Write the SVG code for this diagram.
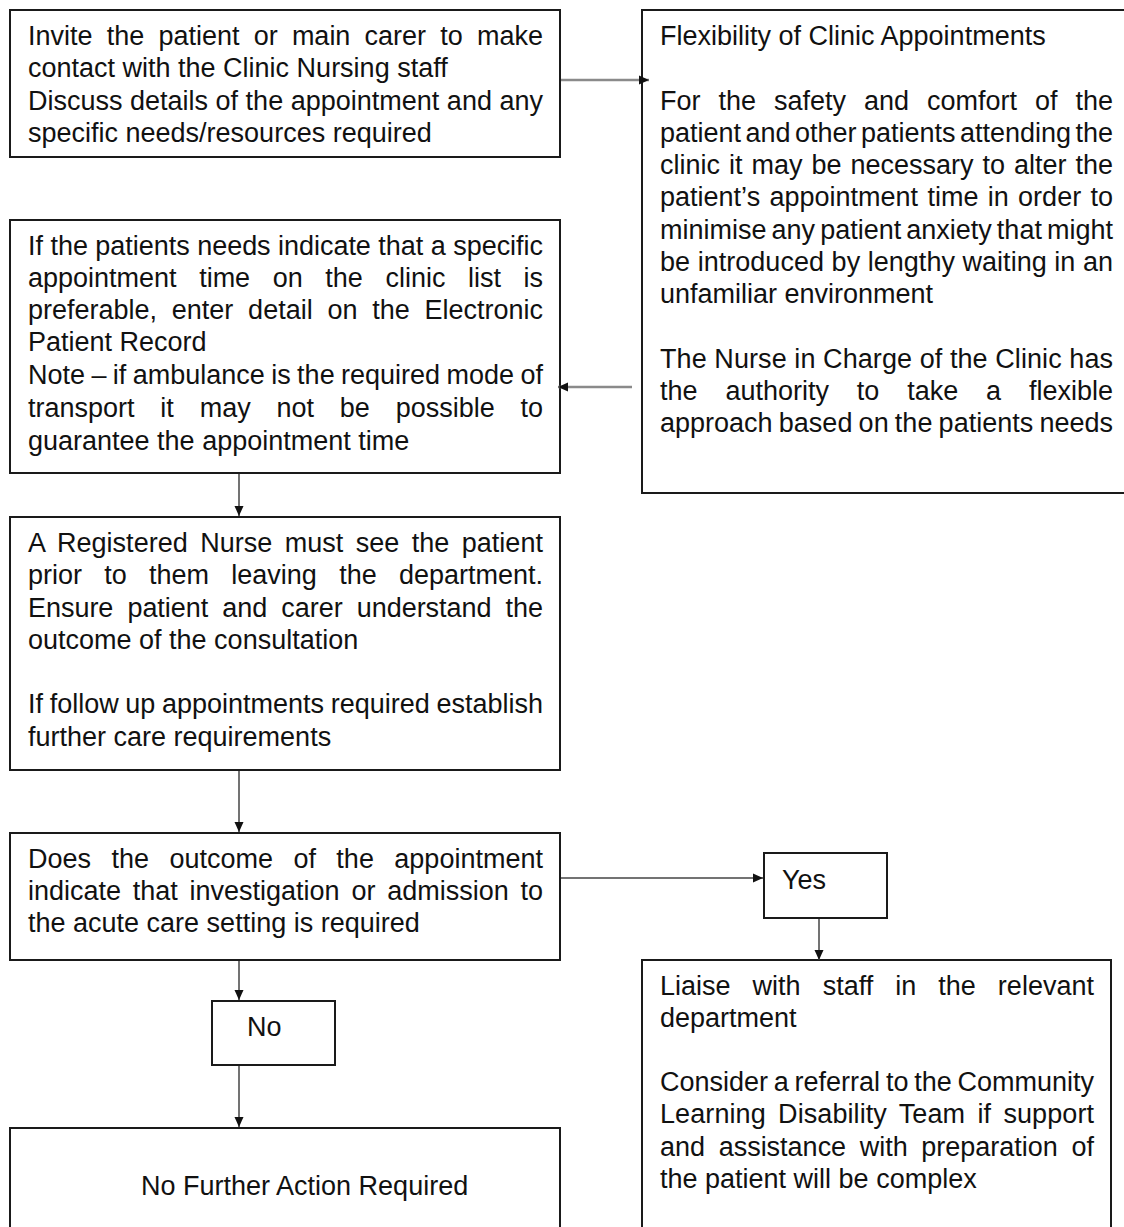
<svg xmlns="http://www.w3.org/2000/svg" width="1124" height="1227" viewBox="0 0 1124 1227">
<style>
.box{fill:#fff;stroke:#1a1a1a;stroke-width:2}
.t{font-family:"Liberation Sans",Arial,sans-serif;font-size:27px;fill:#111}
.c{fill:none;stroke:#444;stroke-width:1.5}
.cg{fill:none;stroke:#8a8a8a;stroke-width:2.5}
</style>
<defs>
<marker id="ah" viewBox="0 0 10 10" refX="10" refY="5" markerWidth="10" markerHeight="10" markerUnits="userSpaceOnUse" orient="auto">
<path d="M0,0.5 L10,5 L0,9.5 Z" fill="#111"/>
</marker>
</defs>
<rect width="1124" height="1227" fill="#fff"/>

<g id="invite">
<rect class="box" x="10" y="10" width="550" height="147"/>
<text class="t"><tspan x="28" y="45" style="word-spacing:6.7px" textLength="515" lengthAdjust="spacing">Invite the patient or main carer to make</tspan><tspan x="28" y="77">contact with the Clinic Nursing staff</tspan><tspan x="28" y="110" textLength="515" lengthAdjust="spacing">Discuss details of the appointment and any</tspan><tspan x="28" y="142">specific needs/resources required</tspan></text>
</g>

<g id="flexibility">
<rect class="box" x="642" y="10" width="500" height="483"/>
<text class="t"><tspan x="660" y="45">Flexibility of Clinic Appointments</tspan><tspan x="660" y="110" style="word-spacing:10.5px" textLength="453" lengthAdjust="spacing">For the safety and comfort of the</tspan><tspan x="660" y="142" style="word-spacing:-3px" textLength="453" lengthAdjust="spacing">patient and other patients attending the</tspan><tspan x="660" y="174" style="word-spacing:1.5px" textLength="453" lengthAdjust="spacing">clinic it may be necessary to alter the</tspan><tspan x="660" y="206" style="word-spacing:1.8px" textLength="453" lengthAdjust="spacing">patient’s appointment time in order to</tspan><tspan x="660" y="239" style="word-spacing:-2.4px" textLength="453" lengthAdjust="spacing">minimise any patient anxiety that might</tspan><tspan x="660" y="271" textLength="453" lengthAdjust="spacing">be introduced by lengthy waiting in an</tspan><tspan x="660" y="303">unfamiliar environment</tspan><tspan x="660" y="368" textLength="453" lengthAdjust="spacing">The Nurse in Charge of the Clinic has</tspan><tspan x="660" y="400" style="word-spacing:20.4px" textLength="453" lengthAdjust="spacing">the authority to take a flexible</tspan><tspan x="660" y="432" style="word-spacing:-1.3px" textLength="453" lengthAdjust="spacing">approach based on the patients needs</tspan></text>
</g>

<g id="appointment-time">
<rect class="box" x="10" y="220" width="550" height="253"/>
<text class="t"><tspan x="28" y="255" textLength="515" lengthAdjust="spacing">If the patients needs indicate that a specific</tspan><tspan x="28" y="287" style="word-spacing:15.1px" textLength="515" lengthAdjust="spacing">appointment time on the clinic list is</tspan><tspan x="28" y="319" style="word-spacing:7.3px" textLength="515" lengthAdjust="spacing">preferable, enter detail on the Electronic</tspan><tspan x="28" y="351">Patient Record</tspan><tspan x="28" y="384" style="word-spacing:-1.1px" textLength="515" lengthAdjust="spacing">Note – if ambulance is the required mode of</tspan><tspan x="28" y="417" style="word-spacing:18.3px" textLength="515" lengthAdjust="spacing">transport it may not be possible to</tspan><tspan x="28" y="450">guarantee the appointment time</tspan></text>
</g>

<g id="registered-nurse">
<rect class="box" x="10" y="517" width="550" height="253"/>
<text class="t"><tspan x="28" y="552" style="word-spacing:4.8px" textLength="515" lengthAdjust="spacing">A Registered Nurse must see the patient</tspan><tspan x="28" y="584" style="word-spacing:14.8px" textLength="515" lengthAdjust="spacing">prior to them leaving the department.</tspan><tspan x="28" y="617" style="word-spacing:6.6px" textLength="515" lengthAdjust="spacing">Ensure patient and carer understand the</tspan><tspan x="28" y="649">outcome of the consultation</tspan><tspan x="28" y="713" style="word-spacing:-0.8px" textLength="515" lengthAdjust="spacing">If follow up appointments required establish</tspan><tspan x="28" y="746">further care requirements</tspan></text>
</g>

<g id="decision">
<rect class="box" x="10" y="833" width="550" height="127"/>
<text class="t"><tspan x="28" y="868" style="word-spacing:12.9px" textLength="515" lengthAdjust="spacing">Does the outcome of the appointment</tspan><tspan x="28" y="900" style="word-spacing:4.3px" textLength="515" lengthAdjust="spacing">indicate that investigation or admission to</tspan><tspan x="28" y="932">the acute care setting is required</tspan></text>
</g>

<g id="yes">
<rect class="box" x="764" y="853" width="123" height="65"/>
<text class="t" x="782" y="889">Yes</text>
</g>

<g id="no">
<rect class="box" x="212" y="1001" width="123" height="64"/>
<text class="t" x="247" y="1036">No</text>
</g>

<g id="liaise">
<rect class="box" x="642" y="960" width="469" height="290"/>
<text class="t"><tspan x="660" y="995" style="word-spacing:14.5px" textLength="434" lengthAdjust="spacing">Liaise with staff in the relevant</tspan><tspan x="660" y="1027">department</tspan><tspan x="660" y="1091" style="word-spacing:-1.7px" textLength="434" lengthAdjust="spacing">Consider a referral to the Community</tspan><tspan x="660" y="1123" style="word-spacing:4.75px" textLength="434" lengthAdjust="spacing">Learning Disability Team if support</tspan><tspan x="660" y="1156" style="word-spacing:6.1px" textLength="434" lengthAdjust="spacing">and assistance with preparation of</tspan><tspan x="660" y="1188">the patient will be complex</tspan></text>
</g>

<g id="no-further-action">
<rect class="box" x="10" y="1128" width="550" height="120"/>
<text class="t" x="141" y="1195">No Further Action Required</text>
</g>

<g id="connectors">
<line class="cg" x1="561" y1="80" x2="649" y2="80" marker-end="url(#ah)"/>
<line class="cg" x1="632" y1="387" x2="558" y2="387" marker-end="url(#ah)"/>
<line class="c" x1="239" y1="474" x2="239" y2="516" marker-end="url(#ah)"/>
<line class="c" x1="239" y1="771" x2="239" y2="832" marker-end="url(#ah)"/>
<line class="c" x1="561" y1="878" x2="763" y2="878" marker-end="url(#ah)"/>
<line class="c" x1="819" y1="919" x2="819" y2="960" marker-end="url(#ah)"/>
<line class="c" x1="239" y1="961" x2="239" y2="1000" marker-end="url(#ah)"/>
<line class="c" x1="239" y1="1066" x2="239" y2="1127" marker-end="url(#ah)"/>
</g>
</svg>
